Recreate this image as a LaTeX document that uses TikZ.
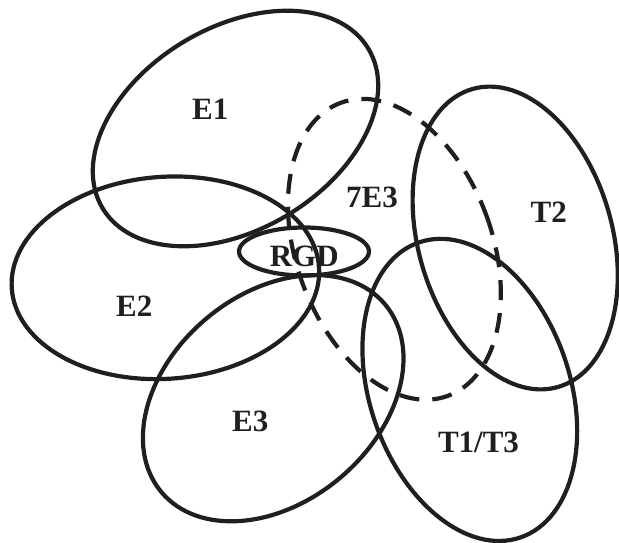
\documentclass[tikz,border=0pt]{standalone}
\usepackage{fontspec}
\setmainfont{Liberation Serif}
\usetikzlibrary{arrows.meta}

\begin{document}
\begin{tikzpicture}[x=1pt,y=-1pt]
\useasboundingbox (0,0) rectangle (619,543);

\begin{scope}[every path/.style={draw=black!88,line width=4.2pt},
              dashring/.style={dash pattern=on 20pt off 13pt}]
    \draw[rotate around={31:(235.5,128.5)}] (235.5,128.5) ellipse [x radius=155, y radius=101];
    \draw[rotate around={4:(165.4,277.8)}] (165.4,277.8) ellipse [x radius=154, y radius=101];
    \draw[rotate around={40:(273.2,398.2)}] (273.2,398.2) ellipse [x radius=146, y radius=104];
    \draw[dashring,rotate around={20:(394.4,249.3)}] (394.4,249.3) ellipse [x radius=98, y radius=156];
    \draw[rotate around={16:(515.2,238)}] (515.2,238) ellipse [x radius=97, y radius=155];
    \draw[rotate around={19:(469.8,389.9)}] (469.8,389.9) ellipse [x radius=100, y radius=156];
    \draw (304,251.5) ellipse [x radius=65, y radius=24];
\end{scope}

\begin{scope}[every node/.style={anchor=base,inner sep=0pt,text=black!88,
                                 font=\fontsize{31}{31}\selectfont\bfseries}]
    \node (E1) at (210.3,119) {E1};
    \node (E2) at (134.3,316.8) {E2};
    \node (E3) at (250.3,431.8) {E3};
    \node (SE) at (372,207) {7E3};
    \node (T2) at (548.8,222.3) {T2};
    \node (TT) at (478.5,452.6) {T1/T3};
    \node (RGD) at (304.2,266.6) {RGD};
\end{scope}
\end{tikzpicture}
\end{document}
